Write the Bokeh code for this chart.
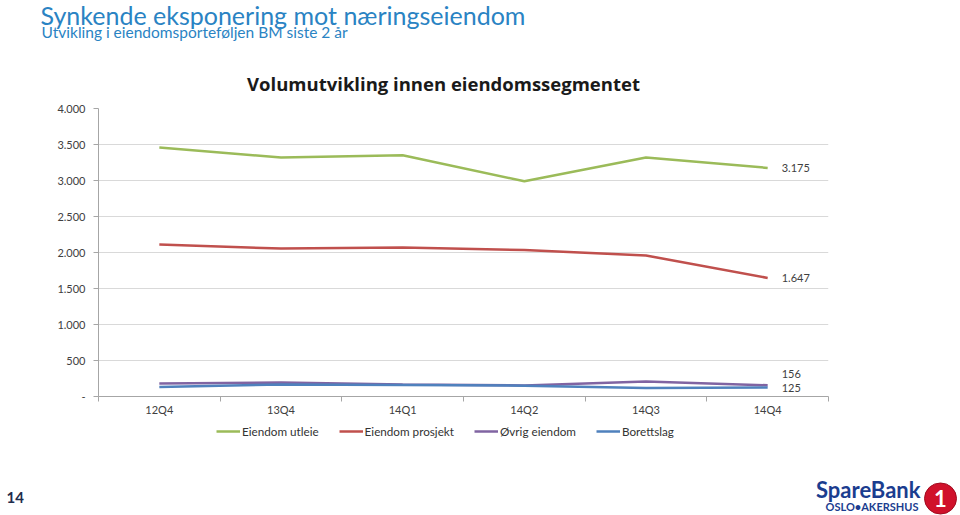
from bokeh.plotting import figure
from bokeh.layouts import column
from bokeh.models import Range1d, FixedTicker, Legend, LegendItem, ColumnDataSource
from bokeh.core.properties import value
from bokeh.embed import file_html
from bokeh.resources import INLINE

# ---------------- data ----------------
categories = ["12Q4", "13Q4", "14Q1", "14Q2", "14Q3", "14Q4"]
series_names = ["Eiendom utleie", "Eiendom prosjekt", "Øvrig eiendom", "Borettslag"]
eiendom_utleie = [3460, 3320, 3350, 2990, 3320, 3175]
eiendom_prosjekt = [2110, 2055, 2070, 2035, 1958, 1647]
ovrig_eiendom = [180, 195, 167, 153, 208, 156]
borettslag = [132, 167, 160, 150, 118, 125]
y_ticks = [0, 500, 1000, 1500, 2000, 2500, 3000, 3500, 4000]
y_tick_labels = ["-", "500", "1.000", "1.500", "2.000", "2.500", "3.000", "3.500", "4.000"]

title_text = "Synkende eksponering mot næringseiendom"
subtitle_text = "Utvikling i eiendomsporteføljen BM siste 2 år"
chart_title = "Volumutvikling innen eiendomssegmentet"
page_number = "14"
logo_name = "SpareBank"
logo_sub = "OSLO•AKERSHUS"
logo_mark = "1"

series_values = [eiendom_utleie, eiendom_prosjekt, ovrig_eiendom, borettslag]
series_colors = ["#9BBB59", "#C0504D", "#8064A2", "#4F81BD"]
end_label_shift = [0, 0, -11, 0]

FONT = "Lato"
W = 960
TOP_H, MAIN_H, BOT_H = 100, 320, 95
N = len(categories)
Y_MAX = y_ticks[-1]
BLUE = "#2A83C3"
NAVY = "#1B3D8F"
LINE_W = 2.5


def blank_fig(h):
    f = figure(width=W, height=h, output_backend="svg", toolbar_location=None,
               x_range=Range1d(0, W), y_range=Range1d(h, 0),
               x_axis_type=None, y_axis_type=None, frame_align=False,
               min_border=0, min_border_left=0, min_border_right=0,
               min_border_top=0, min_border_bottom=0)
    f.outline_line_color = None
    f.grid.visible = False
    f.background_fill_color = "white"
    f.border_fill_color = "white"
    return f


# ---------------- top strip: titles ----------------
top = blank_fig(TOP_H)
top.text(x=[40], y=[14], text=[title_text], text_font=value(FONT), text_font_size="25px",
         text_color=BLUE, text_baseline="alphabetic", text_align="left")
top.text(x=[41], y=[31], text=[subtitle_text], text_font=value(FONT), text_font_size="15.5px",
         text_color=BLUE, text_baseline="alphabetic", text_align="left")
top.text(x=[443], y=[83], text=[chart_title], text_font=value("Open Sans"), text_font_size="18.5px",
         text_font_style="bold", text_color="#1A1A1A", text_baseline="middle", text_align="center")

# ---------------- main chart ----------------
FL, FR, FT, FB = 98, 828, 8, 296
p = figure(width=W, height=MAIN_H, output_backend="svg", toolbar_location=None,
           x_range=Range1d(0, N), y_range=Range1d(0, Y_MAX), frame_align=False,
           min_border_left=FL, min_border_right=W - FR,
           min_border_top=FT, min_border_bottom=MAIN_H - FB)
p.outline_line_color = None
p.background_fill_color = "white"
p.border_fill_color = "white"

xs = [i + 0.5 for i in range(N)]
xax = p.xaxis[0]
xax.ticker = FixedTicker(ticks=xs, minor_ticks=[float(i) for i in range(N + 1)])
xax.major_label_overrides = {x: c for x, c in zip(xs, categories)}
xax.major_tick_line_color = None
xax.major_tick_in = 0
xax.major_tick_out = 0
xax.minor_tick_in = 0
xax.minor_tick_out = 5
xax.minor_tick_line_color = "#A6A6A6"
xax.axis_line_color = "#A6A6A6"
xax.major_label_standoff = 1
xax.major_label_text_font = FONT
xax.major_label_text_font_size = "11px"
xax.major_label_text_color = "#404040"

yax = p.yaxis[0]
yax.ticker = FixedTicker(ticks=[float(t) for t in y_ticks])
yax.major_label_overrides = {float(t): l for t, l in zip(y_ticks, y_tick_labels)}
yax.major_tick_in = 0
yax.major_tick_out = 5
yax.major_tick_line_color = "#A6A6A6"
yax.minor_tick_line_color = None
yax.axis_line_color = "#A6A6A6"
yax.major_label_standoff = 8
yax.major_label_text_font = FONT
yax.major_label_text_font_size = "11px"
yax.major_label_text_color = "#404040"

p.xgrid.visible = False
p.ygrid.grid_line_color = "#D9D9D9"
p.ygrid.grid_line_width = 1

for vals, col in zip(series_values, series_colors):
    p.line(xs, vals, line_color=col, line_width=LINE_W)

end_src = ColumnDataSource(dict(
    x=[xs[-1]] * len(series_values),
    y=[s[-1] for s in series_values],
    text=[f"{s[-1]:,}".replace(",", ".") for s in series_values],
    dy=end_label_shift,
))
p.text(x="x", y="y", text="text", source=end_src, x_offset=14, y_offset="dy",
       text_baseline="middle", text_align="left", text_font=value(FONT),
       text_font_size="11px", text_color="#404040")

# ---------------- bottom strip: legend, page number & logo ----------------
bot = blank_fig(BOT_H)
# legend keys: same series, hidden in this strip (only their legend swatches are shown)
legend_renderers = [bot.line(xs, vals, line_color=col, line_width=LINE_W, visible=False)
                    for vals, col in zip(series_values, series_colors)]
legend = Legend(items=[LegendItem(label=n, renderers=[r]) for n, r in zip(series_names, legend_renderers)],
                orientation="horizontal", location=(216, 75), padding=0, margin=0, spacing=20,
                glyph_width=24, glyph_height=18, label_height=18, label_standoff=2,
                inactive_fill_alpha=0, border_line_color=None, background_fill_alpha=0,
                label_text_font=FONT, label_text_font_size="11.7px", label_text_color="#333333")
bot.add_layout(legend)

bot.text(x=[6], y=[77], text=[page_number], text_font=value(FONT), text_font_size="15px",
         text_font_style="bold", text_color="#1F2D4D", text_baseline="middle", text_align="left")
bot.text(x=[920], y=[69], text=[logo_name], text_font=value(FONT), text_font_size="22px",
         text_font_style="bold", text_color=NAVY, text_baseline="alphabetic", text_align="right")
bot.text(x=[918], y=[86], text=[logo_sub], text_font=value(FONT), text_font_size="11px",
         text_font_style="bold", text_color=NAVY, text_baseline="middle", text_align="right")
bot.ellipse(x=[940], y=[78], width=32, height=31, fill_color="#D0112B", line_color="#A00D20",
            line_width=1)
bot.text(x=[940], y=[78], text=[logo_mark], text_font=value(FONT), text_font_size="22px",
         text_font_style="bold", text_color="white", text_baseline="middle", text_align="center")

layout = column(top, p, bot, spacing=0)
open("out.html", "w").write(file_html(layout, INLINE))
